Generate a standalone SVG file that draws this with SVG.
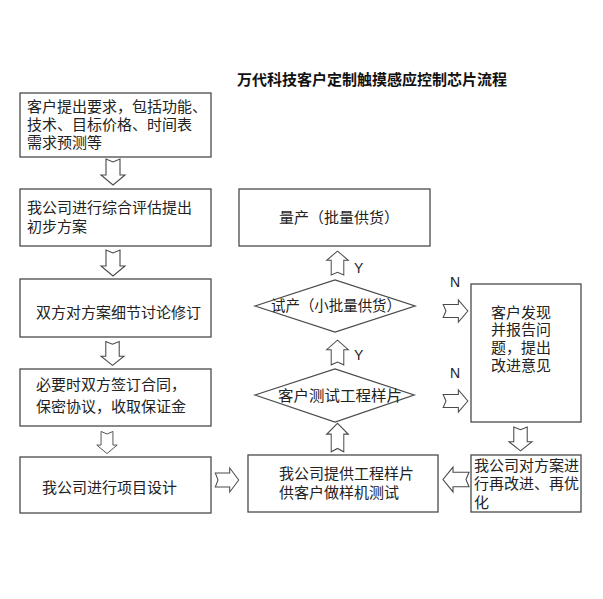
<svg xmlns="http://www.w3.org/2000/svg" width="603" height="599" viewBox="0 0 603 599">
<style>
.box{fill:#fff;stroke:#4a4a4a;stroke-width:1.3}
.arr{fill:#fff;stroke:#4a4a4a;stroke-width:1.1;stroke-linejoin:miter}
.t{font-family:"Noto Sans CJK SC","Noto Sans CJK TC",sans-serif;font-size:15px;fill:#222}
.title{font-family:"Noto Sans CJK SC",sans-serif;font-size:15px;font-weight:bold;fill:#111}
.yn{font-family:"Liberation Sans",Arial,sans-serif;font-size:14px;fill:#222}
</style>
<defs>
<path id="arrR" d="M-13,-7 L3,-7 L3,-12 L13,0 L3,12 L3,7 L-13,7 L-10,0 Z"/>
</defs>
<rect width="603" height="599" fill="#fff"/>
<text class="title" x="237" y="85">万代科技客户定制触摸感应控制芯片流程</text>

<g id="n1"><rect class="box" x="20" y="93" width="191" height="64"/>
<text class="t" x="27" y="112">客户提出要求，包括功能、</text>
<text class="t" x="27" y="130">技术、目标价格、时间表</text>
<text class="t" x="27" y="148">需求预测等</text></g>

<g id="n2"><rect class="box" x="20" y="189" width="191" height="57"/>
<text class="t" x="27" y="212.5">我公司进行综合评估提出</text>
<text class="t" x="27" y="231.5">初步方案</text></g>

<g id="n3"><rect class="box" x="20" y="279" width="191" height="58"/>
<text class="t" x="36" y="317.5">双方对方案细节讨论修订</text></g>

<g id="n4"><rect class="box" x="20" y="369" width="191" height="57"/>
<text class="t" x="36" y="389.5">必要时双方签订合同，</text>
<text class="t" x="36" y="411.5">保密协议，收取保证金</text></g>

<g id="n5"><rect class="box" x="20" y="457" width="191" height="56"/>
<text class="t" x="42" y="492.5">我公司进行项目设计</text></g>

<g id="n6"><rect class="box" x="248" y="455" width="190" height="57"/>
<text class="t" x="279" y="478.5">我公司提供工程样片</text>
<text class="t" x="279" y="497.5">供客户做样机测试</text></g>

<g id="n7"><rect class="box" x="471" y="455" width="110" height="57"/>
<text class="t" x="474" y="470.5">我公司对方案进</text>
<text class="t" x="474" y="488.5">行再改进、再优</text>
<text class="t" x="474" y="507.5">化</text></g>

<g id="n8"><rect class="box" x="471" y="284" width="110" height="138"/>
<text class="t" x="491" y="317.5">客户发现</text>
<text class="t" x="491" y="335">并报告问</text>
<text class="t" x="491" y="352.5">题，提出</text>
<text class="t" x="491" y="370.5">改进意见</text></g>

<g id="n9"><rect class="box" x="239" y="189" width="191" height="57"/>
<text class="t" x="279" y="222.5">量产（批量供货）</text></g>

<g id="d1"><polygon class="box" points="255,306 335,280 415,306 335,332"/>
<text class="t" x="271" y="310.5" textLength="130" lengthAdjust="spacingAndGlyphs">试产（小批量供货）</text></g>

<g id="d2"><polygon class="box" points="255,395 335,369 414,395 335,422"/>
<text class="t" x="278" y="400.5" textLength="124" lengthAdjust="spacingAndGlyphs">客户测试工程样片</text></g>

<g id="connectors">
<use href="#arrR" class="arr" transform="translate(113,172) rotate(90)"/>
<use href="#arrR" class="arr" transform="translate(113,263) rotate(90)"/>
<use href="#arrR" class="arr" transform="translate(112.5,353.5) rotate(90) scale(0.92,0.96)"/>
<use href="#arrR" class="arr" transform="translate(107,442.5) rotate(90) scale(0.85,0.85)"/>
<use href="#arrR" class="arr" transform="translate(227,480) scale(0.9,1)"/>
<use href="#arrR" class="arr" transform="translate(337.5,437.5) rotate(-90) scale(1.1,0.9)"/>
<use href="#arrR" class="arr" transform="translate(337.5,352.5) rotate(-90) scale(0.95,0.9)"/>
<use href="#arrR" class="arr" transform="translate(337.5,263) rotate(-90) scale(0.92,0.9)"/>
<use href="#arrR" class="arr" transform="translate(455.5,311) scale(0.95,0.92)"/>
<use href="#arrR" class="arr" transform="translate(455.5,401) scale(0.95,0.92)"/>
<use href="#arrR" class="arr" transform="translate(520.5,439) rotate(90) scale(0.92,0.96)"/>
<use href="#arrR" class="arr" transform="translate(456,479.5) rotate(180) scale(1,1.04)"/>
<text class="yn" x="354" y="273">Y</text>
<text class="yn" x="354" y="360">Y</text>
<text class="yn" x="455" y="287" text-anchor="middle">N</text>
<text class="yn" x="455" y="378" text-anchor="middle">N</text>
</g>
</svg>
